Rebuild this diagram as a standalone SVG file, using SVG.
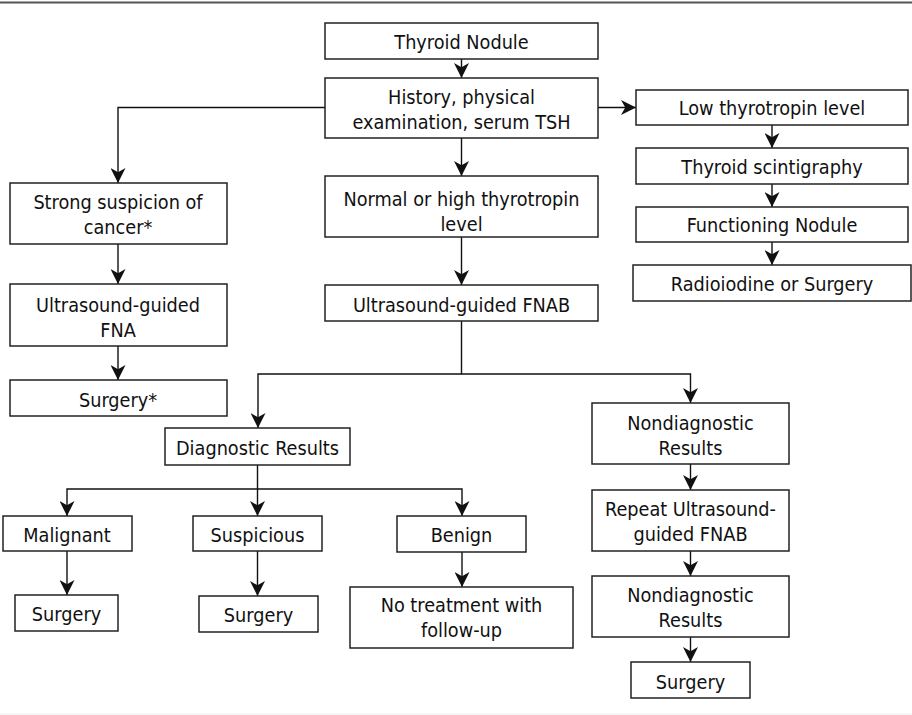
<svg xmlns="http://www.w3.org/2000/svg" width="912" height="715" viewBox="0 0 912 715">
<style>
.box{fill:#fff;stroke:#222;stroke-width:1.5}
.t{font-family:"DejaVu Sans Condensed","DejaVu Sans",sans-serif;font-stretch:condensed;font-size:19.7px;fill:#111;text-anchor:middle}
.c{fill:none;stroke:#111;stroke-width:1.4}
</style>
<defs>
<marker id="ah" markerUnits="userSpaceOnUse" markerWidth="15" markerHeight="15" viewBox="0 0 14 14" refX="14" refY="7" orient="auto">
<path d="M0,0 L14,7 L0,14 L4,7 Z" fill="#111"/>
</marker>
</defs>
<rect x="0" y="0" width="912" height="715" fill="#fff"/>
<line x1="0" y1="2.5" x2="912" y2="2.5" stroke="#555" stroke-width="2"/>
<line x1="0" y1="714" x2="912" y2="714" stroke="#eee" stroke-width="1"/>

<g id="connectors">
<path class="c" d="M461.5,59 V78" marker-end="url(#ah)"/>
<path class="c" d="M598,107.5 H636" marker-end="url(#ah)"/>
<path class="c" d="M325,107.5 H118 V183" marker-end="url(#ah)"/>
<path class="c" d="M461.5,138 V176" marker-end="url(#ah)"/>
<path class="c" d="M461.5,237 V285" marker-end="url(#ah)"/>
<path class="c" d="M772,125 V148" marker-end="url(#ah)"/>
<path class="c" d="M772,184 V207" marker-end="url(#ah)"/>
<path class="c" d="M772,242 V265" marker-end="url(#ah)"/>
<path class="c" d="M118,244 V284" marker-end="url(#ah)"/>
<path class="c" d="M118,346 V380" marker-end="url(#ah)"/>
<path class="c" d="M461.5,321 V374 H258 V428" marker-end="url(#ah)"/>
<path class="c" d="M461.5,374 H690.5 V403" marker-end="url(#ah)"/>
<path class="c" d="M257.5,465 V489 H67 V516" marker-end="url(#ah)"/>
<path class="c" d="M257.5,489 V516" marker-end="url(#ah)"/>
<path class="c" d="M257.5,489 H462 V516" marker-end="url(#ah)"/>
<path class="c" d="M67,551 V595" marker-end="url(#ah)"/>
<path class="c" d="M257.5,551 V596" marker-end="url(#ah)"/>
<path class="c" d="M462,552 V587" marker-end="url(#ah)"/>
<path class="c" d="M690.5,464 V490" marker-end="url(#ah)"/>
<path class="c" d="M690.5,551 V576" marker-end="url(#ah)"/>
<path class="c" d="M690.5,637 V662" marker-end="url(#ah)"/>
</g>

<g id="n-thyroid-nodule"><rect class="box" x="325" y="23" width="273" height="36"/><text class="t" x="461.5" y="48.5">Thyroid Nodule</text></g>
<g id="n-history"><rect class="box" x="325" y="78" width="273" height="60"/><text class="t" x="461.5" y="104">History, physical</text><text class="t" x="461.5" y="129">examination, serum TSH</text></g>
<g id="n-low"><rect class="box" x="636" y="90" width="272" height="35"/><text class="t" x="772" y="115">Low thyrotropin level</text></g>
<g id="n-scint"><rect class="box" x="636" y="148" width="272" height="36"/><text class="t" x="772" y="173.5">Thyroid scintigraphy</text></g>
<g id="n-functioning"><rect class="box" x="636" y="207" width="272" height="35"/><text class="t" x="772" y="232">Functioning Nodule</text></g>
<g id="n-radio"><rect class="box" x="633" y="265" width="278" height="36"/><text class="t" x="772" y="290.5">Radioiodine or Surgery</text></g>
<g id="n-normal"><rect class="box" x="325" y="176" width="273" height="61"/><text class="t" x="461.5" y="206">Normal or high thyrotropin</text><text class="t" x="461.5" y="231">level</text></g>
<g id="n-fnab"><rect class="box" x="325" y="285" width="273" height="36"/><text class="t" x="461.5" y="312">Ultrasound-guided FNAB</text></g>
<g id="n-strong"><rect class="box" x="10" y="183" width="217" height="61"/><text class="t" x="118" y="209">Strong suspicion of</text><text class="t" x="118" y="234">cancer*</text></g>
<g id="n-fna"><rect class="box" x="10" y="284" width="217" height="62"/><text class="t" x="118" y="312">Ultrasound-guided</text><text class="t" x="118" y="337">FNA</text></g>
<g id="n-surgery-star"><rect class="box" x="10" y="380" width="217" height="36"/><text class="t" x="118" y="406.5">Surgery*</text></g>
<g id="n-diagnostic"><rect class="box" x="165" y="428" width="185" height="37"/><text class="t" x="257.5" y="454.5">Diagnostic Results</text></g>
<g id="n-nondiag1"><rect class="box" x="592" y="403" width="197" height="61"/><text class="t" x="690.5" y="430">Nondiagnostic</text><text class="t" x="690.5" y="455">Results</text></g>
<g id="n-repeat"><rect class="box" x="592" y="490" width="197" height="61"/><text class="t" x="690.5" y="516">Repeat Ultrasound-</text><text class="t" x="690.5" y="541">guided FNAB</text></g>
<g id="n-nondiag2"><rect class="box" x="592" y="576" width="197" height="61"/><text class="t" x="690.5" y="602">Nondiagnostic</text><text class="t" x="690.5" y="627">Results</text></g>
<g id="n-surgery-right"><rect class="box" x="631" y="662" width="119" height="36"/><text class="t" x="690.5" y="688.5">Surgery</text></g>
<g id="n-malignant"><rect class="box" x="3" y="516" width="129" height="35"/><text class="t" x="67" y="541.5">Malignant</text></g>
<g id="n-suspicious"><rect class="box" x="193" y="516" width="129" height="35"/><text class="t" x="257.5" y="541.5">Suspicious</text></g>
<g id="n-benign"><rect class="box" x="397" y="516" width="129" height="36"/><text class="t" x="461.5" y="541.5">Benign</text></g>
<g id="n-surgery-mal"><rect class="box" x="15" y="595" width="103" height="36"/><text class="t" x="66.5" y="620.5">Surgery</text></g>
<g id="n-surgery-susp"><rect class="box" x="199" y="596" width="119" height="36"/><text class="t" x="258.5" y="621.5">Surgery</text></g>
<g id="n-notreat"><rect class="box" x="350" y="587" width="223" height="61"/><text class="t" x="461.5" y="612">No treatment with</text><text class="t" x="461.5" y="637">follow-up</text></g>
</svg>
